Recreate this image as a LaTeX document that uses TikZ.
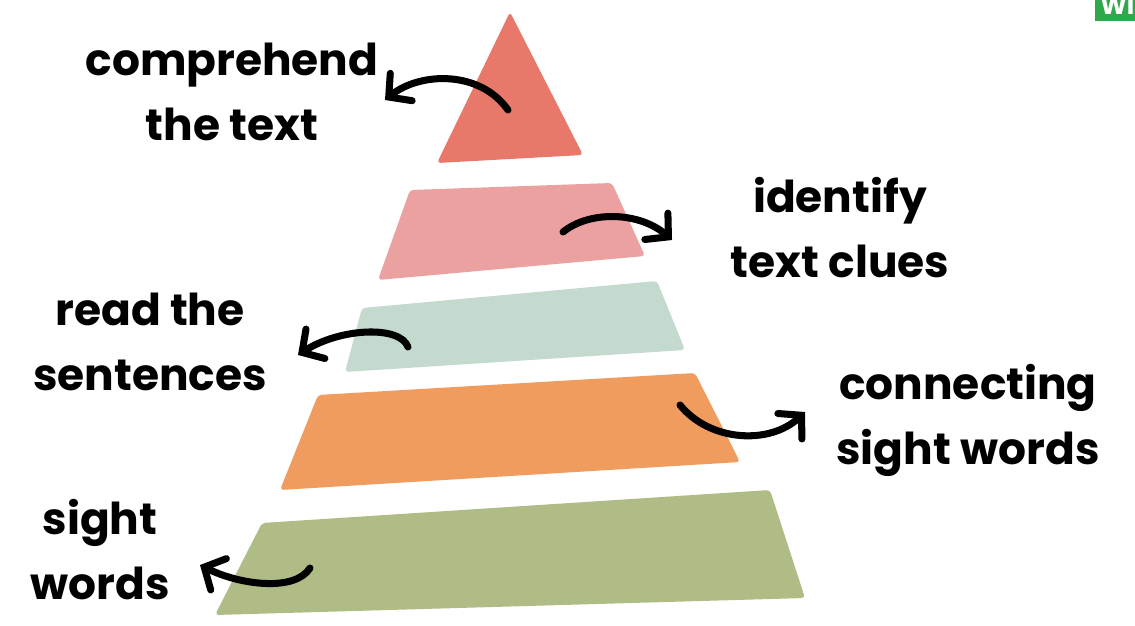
\documentclass[tikz,border=0pt]{standalone}
\usepackage{fontspec}
\setmainfont{Poppins}
\usetikzlibrary{arrows.meta}
\definecolor{tierA}{HTML}{E8786A}
\definecolor{tierB}{HTML}{ECA1A1}
\definecolor{tierC}{HTML}{C5DACF}
\definecolor{tierD}{HTML}{EF9C5E}
\definecolor{tierE}{HTML}{AFBC86}
\definecolor{badge}{HTML}{2FA84B}
\tikzset{
  tier/.style={rounded corners=2pt,draw=none},
  label/.style={font=\fontsize{25}{37}\selectfont\bfseries,align=center,text=black,inner sep=0pt},
  curl/.style={-{Straight Barb[length=3.2mm,width=7mm,line cap=round]},line width=4pt,line cap=round,draw=black}
}

\begin{document}
\begin{tikzpicture}[x=0.02cm,y=-0.02cm]
  \clip (0,0) rectangle (1135,625);
  \fill[white] (0,0) rectangle (1135,625);

  \fill[badge] (1095,-2) rectangle (1137,21);
  \node[font=\bfseries\Large,text=white,anchor=north west,inner sep=0pt] (badgetext) at (1100,-6) {Wi};

  \fill[tier,fill=tierA] (510,12) -- (583,155) -- (437,163) -- cycle;
  \fill[tier,fill=tierB] (410,190) -- (612,183) -- (645,256) -- (378,280) -- cycle;
  \fill[tier,fill=tierC] (362,308) -- (657,281) -- (685,350) -- (345,372) -- cycle;
  \fill[tier,fill=tierD] (318,395) -- (695,373) -- (740,462) -- (280,490) -- cycle;
  \fill[tier,fill=tierE] (262,523) -- (770,490) -- (805,598) -- (215,615) -- cycle;

  \node[label] (compr) at (232,92) {comprehend\\the text};
  \node[label] (clues) at (840,228) {identify\\text clues};
  \node[label] (sent) at (150,342) {read the\\sentences};
  \node[label] (conn) at (968,420) {connecting\\sight words};
  \node[label] (sight) at (100,550) {sight\\words};

  \coordinate (a1) at (508,110);
  \coordinate (b1) at (385,100);
  \coordinate (a2) at (563,232);
  \coordinate (b2) at (672,240);
  \coordinate (a3) at (408,347);
  \coordinate (b3) at (298,355);
  \coordinate (a4) at (680,405);
  \coordinate (b4) at (805,412);
  \coordinate (a5) at (310,568);
  \coordinate (b5) at (200,565);

  \draw[curl] (a1) .. controls (480,70) and (420,72) .. (b1);
  \draw[curl] (a2) .. controls (590,210) and (640,212) .. (b2);
  \draw[curl] (a3) .. controls (400,325) and (340,328) .. (b3);
  \draw[curl] (a4) .. controls (710,442) and (770,445) .. (b4);
  \draw[curl] (a5) .. controls (295,592) and (240,585) .. (b5);
\end{tikzpicture}
\end{document}
